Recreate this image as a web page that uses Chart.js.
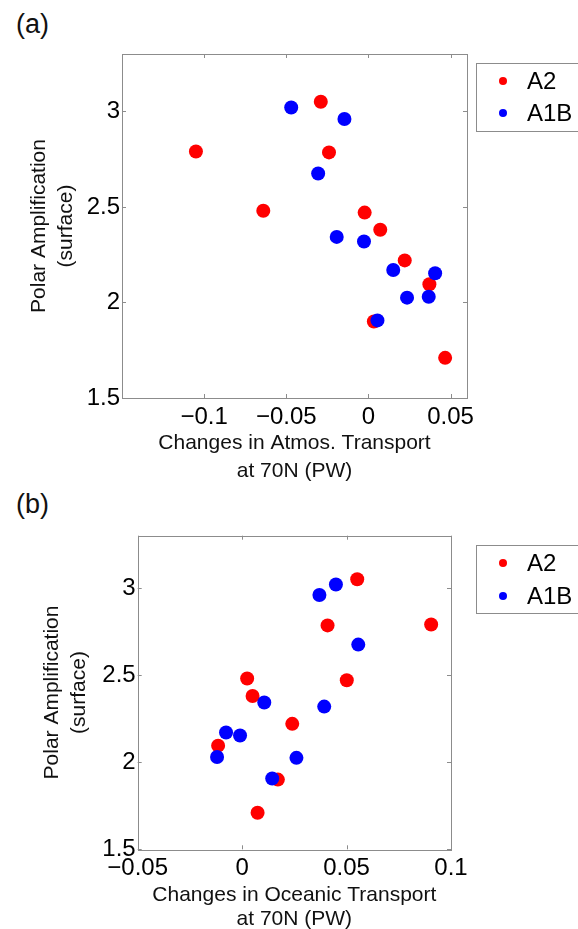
<!DOCTYPE html>
<html>
<head>
<meta charset="utf-8">
<script src="https://cdn.jsdelivr.net/npm/chart.js@4/dist/chart.umd.min.js"></script>
<style>
  body { margin: 0; background: #fff; width: 578px; height: 929px; overflow: hidden; position: relative; font-family: 'Liberation Sans', Arial, sans-serif; }
  canvas { position: absolute; left: 0; }
  .panel { position: absolute; left: 16px; font-size: 27px; color: #111; }
</style>
</head>
<body>
<div class="panel" style="top:9px">(a)</div>
<canvas id="atmosChart" width="578" height="488" style="top:0"></canvas>
<div class="panel" style="top:489px">(b)</div>
<canvas id="oceanChart" width="578" height="450" style="top:488px"></canvas>

<script>
// scenario names
const scenarioNames = ['A2', 'A1B'];

// polar amplification (surface), same for both panels
const ampA2  = [3.05, 2.79, 2.785, 2.48, 2.47, 2.38, 2.22, 2.095, 1.90, 1.71];
const ampA1B = [3.02, 2.96, 2.675, 2.343, 2.319, 2.17, 2.153, 2.025, 2.03, 1.906];

// changes in atmospheric transport at 70N (PW)
const atmosA2  = [-0.029, -0.105, -0.024, -0.064, -0.0023, 0.0072, 0.0221, 0.0371, 0.0033, 0.0467];
const atmosA1B = [-0.047, -0.0146, -0.0306, -0.0193, -0.0027, 0.0151, 0.0406, 0.0235, 0.0367, 0.0055];

// changes in oceanic transport at 70N (PW)
const oceanA2  = [0.0551, 0.0905, 0.0409, 0.0024, 0.0501, 0.0050, 0.0240, -0.0115, 0.0171, 0.0074];
const oceanA1B = [0.0449, 0.0370, 0.0556, 0.0106, 0.0393, -0.0077, -0.0010, 0.0260, -0.0120, 0.0144];

// tick labels
const ampTicks   = [1.5, 2, 2.5, 3];
const atmosTicks = [-0.1, -0.05, 0, 0.05];
const oceanTicks = [-0.05, 0, 0.05, 0.1];

const FONT = "'Liberation Sans', Arial, sans-serif";
const BOX_COLOR = '#8c8c8c';

function toPoints(xs, ys) {
    return xs.map((x, i) => ({ x: x, y: ys[i] }));
}

function fmtTick(v) {
    return (v < 0 ? '\u2212' : '') + Math.abs(v);
}

// matlab style box with inward ticks on all sides
const boxPlugin = {
    id: 'boxAxes',
    afterDatasetsDraw(chart) {
        let ctx = chart.ctx;
        let a = chart.chartArea;
        let len = 4;
        ctx.save();
        ctx.strokeStyle = BOX_COLOR;
        ctx.lineWidth = 1;
        ctx.strokeRect(Math.round(a.left) + 0.5, Math.round(a.top) + 0.5,
            Math.round(a.right - a.left), Math.round(a.bottom - a.top));
        ctx.beginPath();
        chart.scales.x.ticks.forEach(t => {
            let px = Math.round(chart.scales.x.getPixelForValue(t.value)) + 0.5;
            ctx.moveTo(px, a.bottom); ctx.lineTo(px, a.bottom - len);
            ctx.moveTo(px, a.top); ctx.lineTo(px, a.top + len);
        });
        chart.scales.y.ticks.forEach(t => {
            let py = Math.round(chart.scales.y.getPixelForValue(t.value)) + 0.5;
            ctx.moveTo(a.left, py); ctx.lineTo(a.left + len, py);
            ctx.moveTo(a.right, py); ctx.lineTo(a.right - len, py);
        });
        ctx.stroke();
        ctx.restore();
    }
};

// legend with a frame, placed right of the axes
const framedLegend = {
    id: 'framedLegend',
    afterDraw(chart, args, opts) {
        let ctx = chart.ctx;
        ctx.save();
        ctx.strokeStyle = BOX_COLOR;
        ctx.lineWidth = 1;
        ctx.strokeRect(opts.left + 0.5, opts.top + 0.5, opts.width, opts.height);
        ctx.font = '24px ' + FONT;
        ctx.textBaseline = 'middle';
        ctx.textAlign = 'left';
        chart.data.datasets.forEach((ds, i) => {
            let y = opts.rows[i];
            ctx.fillStyle = ds.backgroundColor;
            ctx.beginPath();
            ctx.arc(opts.markX, y, 4, 0, Math.PI * 2);
            ctx.fill();
            ctx.fillStyle = '#000';
            ctx.fillText(ds.label, opts.textX, y + 1);
        });
        ctx.restore();
    }
};

function makeChart(id, xsA2, xsA1B, xMin, xMax, xTicks, xTitle, lay) {
    let ctx = document.getElementById(id).getContext('2d');
    return new Chart(ctx, {
        type: 'scatter',
        data: {
            datasets: [{
                label: scenarioNames[0],
                data: toPoints(xsA2, ampA2),
                backgroundColor: '#ff0000',
                order: 1
            }, {
                label: scenarioNames[1],
                data: toPoints(xsA1B, ampA1B),
                backgroundColor: '#0000ff',
                order: 0
            }]
        },
        options: {
            responsive: false,
            animation: false,
            devicePixelRatio: 1,
            layout: { padding: { left: 0, top: lay.top, right: lay.right, bottom: 0 } },
            elements: { point: { radius: 7, hoverRadius: 7, borderWidth: 0 } },
            plugins: {
                legend: { display: false },
                tooltip: { enabled: false },
                framedLegend: lay.legend
            },
            scales: {
                x: {
                    type: 'linear',
                    min: xMin,
                    max: xMax,
                    afterBuildTicks: scale => { scale.ticks = xTicks.map(v => ({ value: v })); },
                    afterFit: scale => { scale.height = lay.xHeight; },
                    grid: { display: false, drawTicks: false },
                    border: { display: false },
                    ticks: {
                        autoSkip: false, maxRotation: 0, padding: 5,
                        color: '#000', font: { family: FONT, size: 24 },
                        callback: v => fmtTick(v)
                    },
                    title: {
                        display: true,
                        text: xTitle,
                        color: '#111',
                        font: { family: FONT, size: 21, lineHeight: lay.xLine },
                        padding: { top: 0, bottom: lay.xTitlePad }
                    }
                },
                y: {
                    type: 'linear',
                    min: 1.5,
                    max: 3.3,
                    afterBuildTicks: scale => { scale.ticks = ampTicks.map(v => ({ value: v })); },
                    afterFit: scale => { scale.width = lay.yWidth; },
                    grid: { display: false, drawTicks: false },
                    border: { display: false },
                    ticks: {
                        autoSkip: false, padding: 2,
                        color: '#000', font: { family: FONT, size: 24 },
                        callback: v => fmtTick(v)
                    },
                    title: {
                        display: true,
                        text: ['Polar Amplification', '(surface)'],
                        color: '#111',
                        font: { family: FONT, size: 21, lineHeight: 27 / 21 },
                        padding: { top: lay.yTitlePad, bottom: 0 }
                    }
                }
            }
        },
        plugins: [boxPlugin, framedLegend]
    });
}

makeChart('atmosChart', atmosA2, atmosA1B, -0.15, 0.06, atmosTicks,
    ['Changes in Atmos. Transport', 'at 70N (PW)'], {
        top: 54, right: 111, yWidth: 122, xHeight: 90,
        xLine: 27.5 / 21, xTitlePad: 3.5, yTitlePad: 25.5,
        legend: { left: 476, top: 63, width: 120, height: 68, rows: [81, 113], markX: 503, textX: 527 }
    });

makeChart('oceanChart', oceanA2, oceanA1B, -0.05, 0.1, oceanTicks,
    ['Changes in Oceanic Transport', 'at 70N (PW)'], {
        top: 47.7, right: 127, yWidth: 137.7, xHeight: 88.7,
        xLine: 24.7 / 21, xTitlePad: 6, yTitlePad: 38.5,
        legend: { left: 476, top: 57, width: 120, height: 68, rows: [75, 108], markX: 503, textX: 527 }
    });
</script>
</body>
</html>
